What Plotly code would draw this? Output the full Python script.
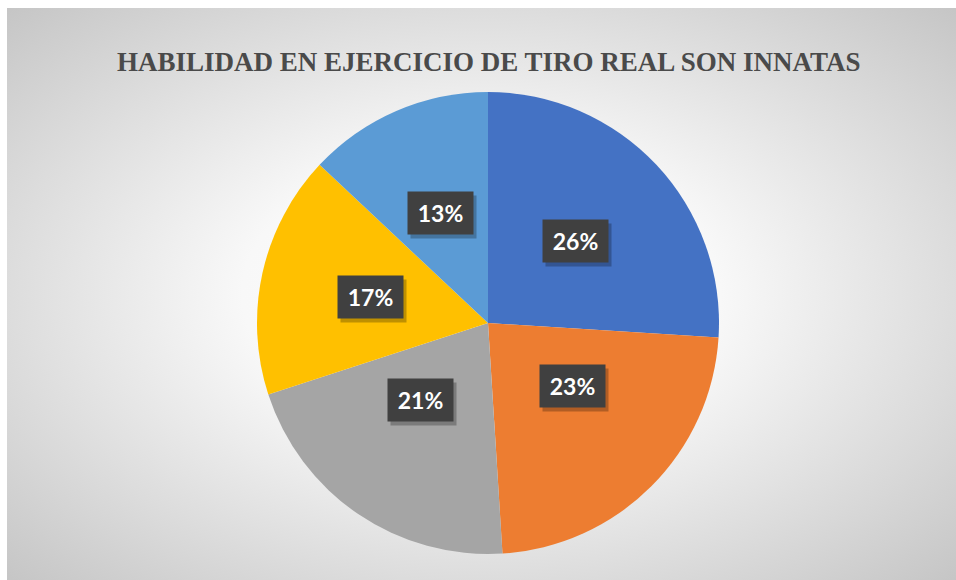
import base64
import math

import plotly.graph_objects as go

# slices, clockwise from 12 o'clock
labels = ["A", "B", "C", "D", "E"]
values = [26, 23, 21, 17, 13]
colors = ["#4472C4", "#ED7D31", "#A5A5A5", "#FFC000", "#5B9BD5"]
title = "HABILIDAD EN EJERCICIO DE TIRO REAL SON INNATAS"

W, H = 956, 580
cx_px, cy_px, r_px = 488, 323, 231

# radial grey background like the office chart area
svg = (
    '<svg xmlns="http://www.w3.org/2000/svg" width="949" height="572" '
    'preserveAspectRatio="none" viewBox="0 0 949 572">'
    '<defs><radialGradient id="g" cx="50%" cy="50%" r="72%">'
    '<stop offset="0" stop-color="#ffffff"/>'
    '<stop offset="0.35" stop-color="#f8f8f8"/>'
    '<stop offset="1" stop-color="#c4c4c4"/>'
    "</radialGradient></defs>"
    '<rect width="949" height="572" fill="url(#g)"/></svg>'
)
bg_src = "data:image/svg+xml;base64," + base64.b64encode(svg.encode()).decode()

fig = go.Figure()
fig.add_trace(
    go.Pie(
        labels=labels,
        values=values,
        sort=False,
        direction="clockwise",
        rotation=0,
        marker=dict(colors=colors, line=dict(width=0)),
        textinfo="none",
        hoverinfo="label+percent",
        showlegend=False,
        domain=dict(
            x=[(cx_px - r_px) / W, (cx_px + r_px) / W],
            y=[1 - (cy_px + r_px) / H, 1 - (cy_px - r_px) / H],
        ),
    )
)

# label boxes at slice mid angles
total = sum(values)
start = 0.0
annotations = []
for v in values:
    mid = start + v / total * 360 / 2
    start += v / total * 360
    rad = math.radians(mid)
    px = cx_px + 0.52 * r_px * math.sin(rad)
    py = cy_px - 0.52 * r_px * math.cos(rad)
    x = px / W
    y = 1 - py / H
    txt = f"{round(v / total * 100)}%"
    # shadow
    annotations.append(
        dict(
            x=x, y=y, xref="paper", yref="paper", text=" ", showarrow=False,
            xshift=3, yshift=-4, width=63, height=40, borderpad=1,
            font=dict(family="Lato", size=23, color="rgba(0,0,0,0)"),
            bgcolor="rgba(0,0,0,0.25)",
        )
    )
    annotations.append(
        dict(
            x=x, y=y, xref="paper", yref="paper", text=f"<b>{txt}</b>",
            showarrow=False, width=63, height=40, borderpad=1,
            font=dict(family="Lato", size=23, color="white"),
            bgcolor="#404040",
        )
    )

annotations.append(
    dict(
        x=cx_px / W, y=1 - 45 / H, xref="paper", yref="paper",
        text=f"<b>{title}</b>", showarrow=False,
        font=dict(family="Liberation Serif", size=27, color="#4a4a4a"),
    )
)

fig.update_layout(
    width=W,
    height=H,
    margin=dict(l=0, r=0, t=0, b=0),
    paper_bgcolor="white",
    plot_bgcolor="white",
    annotations=annotations,
    images=[
        dict(
            source=bg_src, xref="paper", yref="paper",
            x=7 / W, y=1 - 8 / H, sizex=(W - 7) / W, sizey=(H - 8) / H,
            xanchor="left", yanchor="top", sizing="stretch", layer="below",
        )
    ],
)

fig.write_html(
    "out.html",
    config={"displayModeBar": False},
    post_script="document.body.style.margin='0px';document.body.style.overflow='hidden';",
)
